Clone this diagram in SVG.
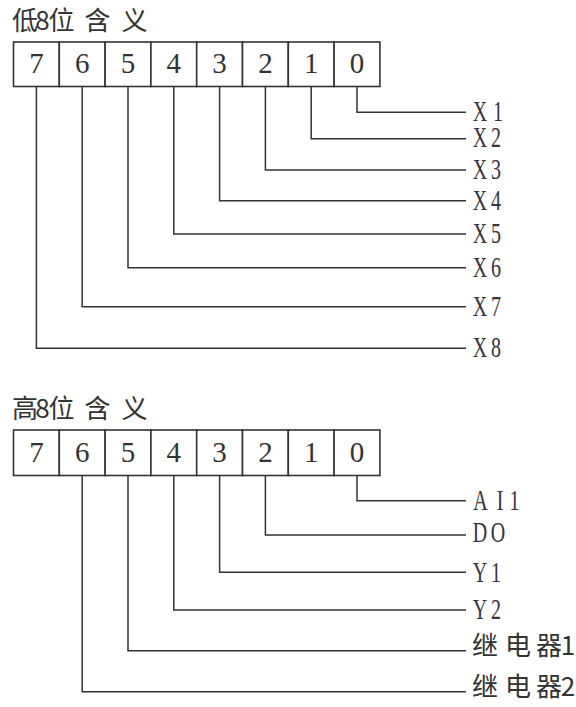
<svg xmlns="http://www.w3.org/2000/svg" width="576" height="707" viewBox="0 0 576 707">
<style>
.cell{fill:#fff;stroke:#333;stroke-width:1.6}
.dig{font-family:'Liberation Serif','Times New Roman','DejaVu Serif',serif;font-size:29px;fill:#333;text-anchor:middle}
.hdr{font-family:'Noto Sans CJK SC',sans-serif;font-size:26px;fill:#333;text-anchor:middle}
.lbl{font-family:'Liberation Serif','Times New Roman','DejaVu Serif',serif;font-size:29px;fill:#343440;text-anchor:middle}
.cjk{font-family:'Noto Sans CJK SC',sans-serif;font-size:26px;fill:#333;text-anchor:middle}
.wire{fill:none;stroke:#333;stroke-width:1.5}
</style>
<rect width="576" height="707" fill="#fff"/>
<g id="header-low"><text class="hdr" x="25 42.5 61.5 97.5 134.5" y="30">低8位含义</text></g>
<g id="register-low">
<rect class="cell" x="13.5" y="42" width="45.8" height="44.5"/>
<rect class="cell" x="59.3" y="42" width="45.8" height="44.5"/>
<rect class="cell" x="105.1" y="42" width="45.8" height="44.5"/>
<rect class="cell" x="150.9" y="42" width="45.8" height="44.5"/>
<rect class="cell" x="196.7" y="42" width="45.8" height="44.5"/>
<rect class="cell" x="242.5" y="42" width="45.8" height="44.5"/>
<rect class="cell" x="288.3" y="42" width="45.8" height="44.5"/>
<rect class="cell" x="334.1" y="42" width="45.8" height="44.5"/>
<text class="dig" font-family="Liberation Serif, serif" x="36.4 82.2 128 173.8 219.6 265.4 311.2 357" y="73">76543210</text>
</g>
<g id="header-high"><text class="hdr" x="25 42.5 61.5 97.5 134.5" y="418">高8位含义</text></g>
<g id="register-high">
<rect class="cell" x="13.5" y="430" width="45.8" height="45.5"/>
<rect class="cell" x="59.3" y="430" width="45.8" height="45.5"/>
<rect class="cell" x="105.1" y="430" width="45.8" height="45.5"/>
<rect class="cell" x="150.9" y="430" width="45.8" height="45.5"/>
<rect class="cell" x="196.7" y="430" width="45.8" height="45.5"/>
<rect class="cell" x="242.5" y="430" width="45.8" height="45.5"/>
<rect class="cell" x="288.3" y="430" width="45.8" height="45.5"/>
<rect class="cell" x="334.1" y="430" width="45.8" height="45.5"/>
<text class="dig" font-family="Liberation Serif, serif" x="36.4 82.2 128 173.8 219.6 265.4 311.2 357" y="462">76543210</text>
</g>
<g id="connectors">
<path class="wire" d="M357,86.5V112.3H466"/>
<path class="wire" d="M311.2,86.5V138.7H466"/>
<path class="wire" d="M265.4,86.5V170H466"/>
<path class="wire" d="M219.6,86.5V200.7H466"/>
<path class="wire" d="M173.8,86.5V234H466"/>
<path class="wire" d="M128,86.5V267.7H466"/>
<path class="wire" d="M82.2,86.5V306.7H466"/>
<path class="wire" d="M36.4,86.5V348.3H466"/>
<path class="wire" d="M357,475.5V500.7H466"/>
<path class="wire" d="M265.4,475.5V535H466"/>
<path class="wire" d="M219.6,475.5V572.3H466"/>
<path class="wire" d="M173.8,475.5V610H466"/>
<path class="wire" d="M128,475.5V650.7H466"/>
<path class="wire" d="M82.2,475.5V691.7H466"/>
</g>
<g id="label-X1"><text class="lbl" transform="translate(480,121) scale(0.69,1)" x="0 26">X1</text></g>
<g id="label-X2"><text class="lbl" transform="translate(480,147) scale(0.69,1)" x="0 23.2">X2</text></g>
<g id="label-X3"><text class="lbl" transform="translate(480,179) scale(0.69,1)" x="0 23.2">X3</text></g>
<g id="label-X4"><text class="lbl" transform="translate(480,209.5) scale(0.69,1)" x="0 23.2">X4</text></g>
<g id="label-X5"><text class="lbl" transform="translate(480,243) scale(0.69,1)" x="0 23.2">X5</text></g>
<g id="label-X6"><text class="lbl" transform="translate(480,276.5) scale(0.69,1)" x="0 23.2">X6</text></g>
<g id="label-X7"><text class="lbl" transform="translate(480,315.5) scale(0.69,1)" x="0 23.2">X7</text></g>
<g id="label-X8"><text class="lbl" transform="translate(480,357) scale(0.69,1)" x="0 23.2">X8</text></g>
<g id="label-AI1"><text class="lbl" transform="translate(480.5,510) scale(0.69,1)" x="0 28.3 49.3">AI1</text></g>
<g id="label-DO"><text class="lbl" transform="translate(480,542) scale(0.69,1)" x="0 26">DO</text></g>
<g id="label-Y1"><text class="lbl" transform="translate(480,581.5) scale(0.69,1)" x="0 23.2">Y1</text></g>
<g id="label-Y2"><text class="lbl" transform="translate(480,619.3) scale(0.69,1)" x="0 23.2">Y2</text></g>
<g id="label-relay1"><text class="cjk" x="485 518 549 568" y="655">继电器1</text></g>
<g id="label-relay2"><text class="cjk" x="485 518 549 568" y="696">继电器2</text></g>
</svg>
